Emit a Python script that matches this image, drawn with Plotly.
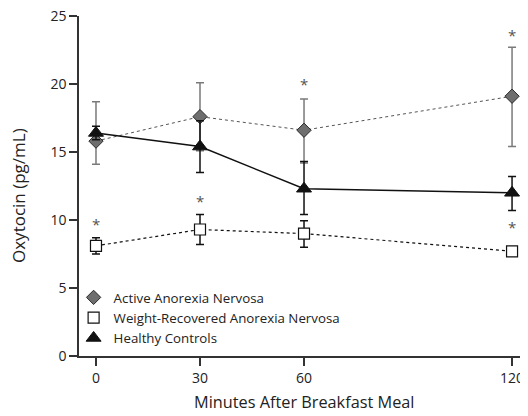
import plotly.graph_objects as go

minutes = [0, 30, 60, 120]

an_mean = [15.8, 17.6, 16.6, 19.1]
an_up = [2.9, 2.5, 2.3, 3.6]
an_down = [1.7, 2.5, 2.4, 3.7]

wr_mean = [8.1, 9.3, 9.0, 7.7]
wr_up = [0.6, 1.1, 0.95, 0.25]
wr_down = [0.6, 1.1, 1.0, 0.25]

hc_mean = [16.4, 15.4, 12.3, 12.0]
hc_up = [0.5, 1.9, 2.0, 1.2]
hc_down = [0.5, 1.9, 1.9, 1.3]

star_x = [0, 30, 60, 120, 120]
star_y = [9.7, 11.4, 20.0, 23.6, 9.5]

names = ["Active Anorexia Nervosa", "Weight-Recovered Anorexia Nervosa", "Healthy Controls"]
x_title = "Minutes After Breakfast Meal"
y_title = "Oxytocin (pg/mL)"

font = "Open Sans"
fig = go.Figure()

# lines
fig.add_trace(go.Scatter(x=minutes, y=an_mean, mode="lines", showlegend=False,
                         line=dict(color="#555555", width=1, dash="dot"), hoverinfo="skip"))
fig.add_trace(go.Scatter(x=minutes, y=wr_mean, mode="lines", showlegend=False,
                         line=dict(color="#111111", width=1.2, dash="dot"), hoverinfo="skip"))
fig.add_trace(go.Scatter(x=minutes, y=hc_mean, mode="lines", showlegend=False,
                         line=dict(color="#111111", width=1.5), hoverinfo="skip"))

# markers with error bars
fig.add_trace(go.Scatter(x=minutes, y=an_mean, mode="markers", name=names[0],
                         marker=dict(symbol="diamond", size=11, color="#6e6e6e",
                                     line=dict(color="#2a2a2a", width=1)),
                         error_y=dict(type="data", symmetric=False, array=an_up, arrayminus=an_down,
                                      color="#7a7a7a", thickness=1.5, width=4)))
fig.add_trace(go.Scatter(x=minutes, y=wr_mean, mode="markers", name=names[1],
                         marker=dict(symbol="square", size=11, color="white",
                                     line=dict(color="#111111", width=1.2)),
                         error_y=dict(type="data", symmetric=False, array=wr_up, arrayminus=wr_down,
                                      color="#111111", thickness=1.5, width=4)))
fig.add_trace(go.Scatter(x=minutes, y=hc_mean, mode="markers", name=names[2],
                         marker=dict(symbol="triangle-up", size=13, color="#111111",
                                     line=dict(color="#111111", width=1)),
                         error_y=dict(type="data", symmetric=False, array=hc_up, arrayminus=hc_down,
                                      color="#111111", thickness=1.5, width=4)))

for sx, sy in zip(star_x, star_y):
    fig.add_annotation(x=sx, y=sy, text="*", showarrow=False,
                       font=dict(family=font, size=15, color="#555555"))

# axis titles (positions relative to the plot area)
fig.add_annotation(x=0.5, y=-(402 - 356) / 340, xref="paper", yref="paper", text=x_title,
                   showarrow=False, xanchor="center", yanchor="middle",
                   font=dict(family=font, size=16.3, color="#222222"))
fig.add_annotation(x=-(79 - 18) / 449, y=(356 - 196) / 340, xref="paper", yref="paper",
                   text=y_title, showarrow=False, textangle=-90, xanchor="center", yanchor="middle",
                   font=dict(family=font, size=17, color="#222222"))

# the page body adds an 8px offset, so the figure is 8px smaller on each axis
fig.update_layout(
    width=520, height=408,
    margin=dict(l=71, r=0, t=8, b=60),
    paper_bgcolor="white", plot_bgcolor="white",
    font=dict(family=font, size=13, color="#222222"),
    legend=dict(x=-0.012, y=0.217, xanchor="left", yanchor="top", bgcolor="rgba(0,0,0,0)",
                font=dict(family=font, size=13.3, color="#222222"),
                tracegroupgap=0, itemwidth=30),
    xaxis=dict(range=[-4.9, 124.6], tickvals=[0, 30, 60, 120], showgrid=False, zeroline=False,
               showline=True, linecolor="#333333", linewidth=1.5, ticks="outside", ticklen=8,
               tickcolor="#333333", tickwidth=1.5, tickfont=dict(size=14), automargin=False,
               ticklabeloverflow="allow"),
    yaxis=dict(range=[0, 25], tickvals=[0, 5, 10, 15, 20, 25], showgrid=False, zeroline=False,
               showline=True, linecolor="#333333", linewidth=1.5, ticks="outside", ticklen=8,
               tickcolor="#333333", tickwidth=1.5, tickfont=dict(size=14), automargin=False,
               ticklabeloverflow="allow"),
)
for tr in fig.data:
    tr.cliponaxis = False

fig.write_html("out.html")
